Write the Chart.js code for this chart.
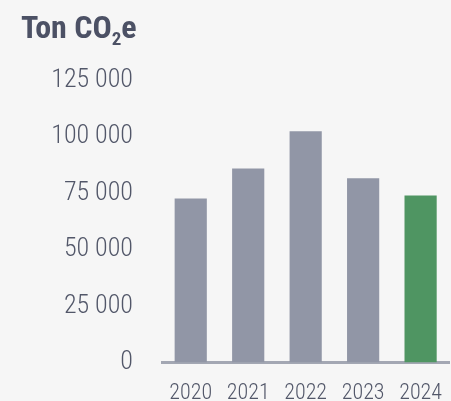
<!DOCTYPE html>
<html>
<head>
<meta charset="utf-8">
<script src="https://cdn.jsdelivr.net/npm/chart.js"></script>
<style>
  html, body { margin: 0; padding: 0; background: #f6f6f6; overflow: hidden; }
  body { width: 451px; height: 401px; position: relative; }
  #title {
    position: absolute; left: 21px; top: 9px; z-index: 2;
    font-family: Roboto, sans-serif; font-stretch: condensed;
    font-weight: 700; font-size: 32px; line-height: 36px;
    color: #4c5165; white-space: nowrap;
  }
  #title sub { font-size: 19px; vertical-align: -7px; line-height: 0; }
  #wrap { position: absolute; left: 0; top: 0; width: 460px; height: 425px; }
</style>
</head>
<body>
<div id="title">Ton CO<sub>2</sub>e</div>
<div id="wrap"><canvas id="chart"></canvas></div>
<script>
// emissions per year
const years = ['2020', '2021', '2022', '2023', '2024'];
const emissions = [72600, 85900, 102300, 81500, 73900];
const barColors = ['#9196a6', '#9196a6', '#9196a6', '#9196a6', '#4f9562'];
const yTickLabels = ['0', '25 000', '50 000', '75 000', '100 000', '125 000'];

const textColor = '#525769';

new Chart(document.getElementById('chart'), {
    type: 'bar',
    data: {
        labels: years,
        datasets: [{
            data: emissions,
            backgroundColor: barColors,
            barPercentage: 0.56,
            categoryPercentage: 1.0
        }]
    },
    options: {
        responsive: true,
        maintainAspectRatio: false,
        devicePixelRatio: 1,
        animation: false,
        layout: { padding: { top: 80, right: 0, left: 0, bottom: 0 } },
        plugins: {
            legend: { display: false },
            tooltip: { enabled: false }
        },
        scales: {
            x: {
                grid: { display: false, drawTicks: false },
                border: { display: true, color: '#a3a7b3', width: 3 },
                ticks: {
                    color: textColor,
                    // weight string carries the stretch so canvas picks condensed Roboto
                    font: { family: 'Roboto', size: 22, weight: '300 condensed' },
                    padding: 18,
                    maxRotation: 0
                }
            },
            y: {
                min: 0,
                max: 125000,
                grid: { display: false, drawTicks: false },
                border: { display: false },
                afterFit: (s) => { s.width = 162; },
                ticks: {
                    stepSize: 25000,
                    color: textColor,
                    font: { family: 'Roboto', size: 26, weight: '300 condensed' },
                    padding: 29,
                    callback: (v, i) => yTickLabels[i]
                }
            }
        }
    }
});
</script>
</body>
</html>
